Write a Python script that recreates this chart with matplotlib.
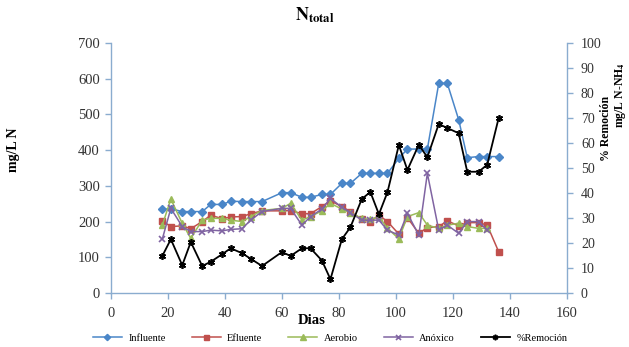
import numpy as np
import matplotlib
matplotlib.use("Agg")
import matplotlib.pyplot as plt

plt.rcParams['font.family'] = ['Liberation Serif', 'DejaVu Serif']
plt.rcParams['mathtext.fontset'] = 'stix'

days = [18, 21, 25, 28, 32, 35, 39, 42, 46, 49, 53, 60, 63, 67, 70, 74, 77,
        81, 84, 88, 91, 94, 97, 101, 104, 108, 111, 115, 118, 122, 125, 129, 132, 136]

influente = [234, 236, 228, 228, 228, 248, 248, 257, 256, 256, 256, 281, 281, 268, 268, 276, 276,
             307, 307, 335, 335, 335, 335, 377, 403, 403, 403, 587, 587, 485, 379, 382, 382, 382]
efluente = [202, 186, 188, 180, 200, 218, 208, 213, 214, 222, 230, 230, 231, 222, 222, 242, 258,
            242, 228, 206, 200, 218, 200, 165, 211, 167, 183, 186, 202, 188, 197, 197, 190, 116]
aerobio = [190, 263, 195, 153, 204, 209, 209, 204, 200, 214, 231, 237, 251, 204, 214, 230, 251,
           235, 225, 209, 206, 214, 181, 152, 214, 225, 190, 181, 190, 195, 186, 181, 181, np.nan]
anoxico = [151, 237, 186, 172, 172, 176, 174, 178, 180, 204, 228, 237, 237, 190, 214, 235, 265,
           240, 225, 204, 204, 204, 176, 162, 223, 162, 335, 176, 190, 167, 200, 200, 176, np.nan]
remocion = [14.8, 21.5, 11.1, 20.4, 10.8, 12.5, 15.5, 17.9, 15.9, 13.7, 10.8, 16.4, 14.8, 17.9, 17.9, 13.0, 5.5,
            21.5, 26.3, 37.6, 40.4, 31.5, 40.3, 59.2, 49.2, 59.3, 54.3, 67.6, 66.0, 63.9, 48.5, 48.5, 51.3, 69.9]

xticks = [0, 20, 40, 60, 80, 100, 120, 140, 160]
yticks_left = [0, 100, 200, 300, 400, 500, 600, 700]
yticks_right = [0, 10, 20, 30, 40, 50, 60, 70, 80, 90, 100]

W, H = 629, 347
fig = plt.figure(figsize=(W / 100, H / 100), dpi=100)
L, R, T, B = 111, 567, 43, 293
ax = fig.add_axes([L / W, 1 - B / H, (R - L) / W, (B - T) / H])
ax2 = ax.twinx()

spine_c = '#8aaccf'
c_blue = '#4a86c8'
c_red = '#c0504d'
c_green = '#9bbb59'
c_purple = '#8064a2'

lw = 1.1
h1, = ax.plot(days, influente, color=c_blue, lw=lw, marker='D', ms=4, label='Influente')
h2, = ax.plot(days, efluente, color=c_red, lw=lw, marker='s', ms=4.5, label='Efluente')
h3, = ax.plot(days, aerobio, color=c_green, lw=lw, marker='^', ms=5, label='Aerobio')
h4, = ax.plot(days, anoxico, color=c_purple, lw=lw, marker='x', ms=4.5, mew=1.2, label='Anóxico')
h5, = ax2.plot(days, remocion, color='black', lw=1.3, marker=(6, 2, 0), ms=5, mew=1.2, label='%Remoción')

ax.set_xlim(0, 160)
ax.set_ylim(0, 700)
ax2.set_ylim(0, 100)
ax.set_xticks(xticks)
ax.set_yticks(yticks_left)
ax2.set_yticks(yticks_right)

for a in (ax, ax2):
    for s in a.spines.values():
        s.set_color(spine_c)
        s.set_linewidth(1.0)
    a.spines['top'].set_visible(False)
ax.spines['right'].set_visible(False)
ax2.spines['left'].set_visible(False)
ax2.spines['bottom'].set_visible(False)

ax.tick_params(axis='both', colors=spine_c, labelcolor='#333333', labelsize=10.5,
               direction='out', length=4, width=1)
ax.tick_params(axis='x', pad=6)
ax.tick_params(axis='y', pad=4)
ax2.tick_params(axis='y', colors=spine_c, labelcolor='#333333', labelsize=10,
                direction='out', length=4, width=1, pad=6)

fig.text(315 / W, 1 - 15 / H, r'$\mathbf{N}_{\mathbf{total}}$', ha='center', va='center', fontsize=13)
fig.text(14 / W, 1 - 150 / H, 'mg/L N', rotation=90, ha='center', va='center',
         fontsize=10, fontweight='bold')
fig.text(312 / W, 1 - 320 / H, 'Dias', ha='center', va='center', fontsize=10.5, fontweight='bold')
fig.text(606 / W, 1 - 128 / H, '% Remoción', rotation=90, ha='center', va='center',
         fontsize=8.5, fontweight='bold')
fig.text(621 / W, 1 - 128 / H, r'mg/L N-NH$_\mathbf{4}$', rotation=90, ha='center', va='bottom',
         fontsize=8.5, fontweight='bold')

fig.legend(handles=[h1, h2, h3, h4, h5], loc='center', bbox_to_anchor=(330 / W, 1 - 338 / H),
           ncol=5, frameon=False, fontsize=7.5, handlelength=2.8, handletextpad=0.6,
           columnspacing=2.5, markerscale=0.8)

fig.savefig('out.png', dpi=100)
